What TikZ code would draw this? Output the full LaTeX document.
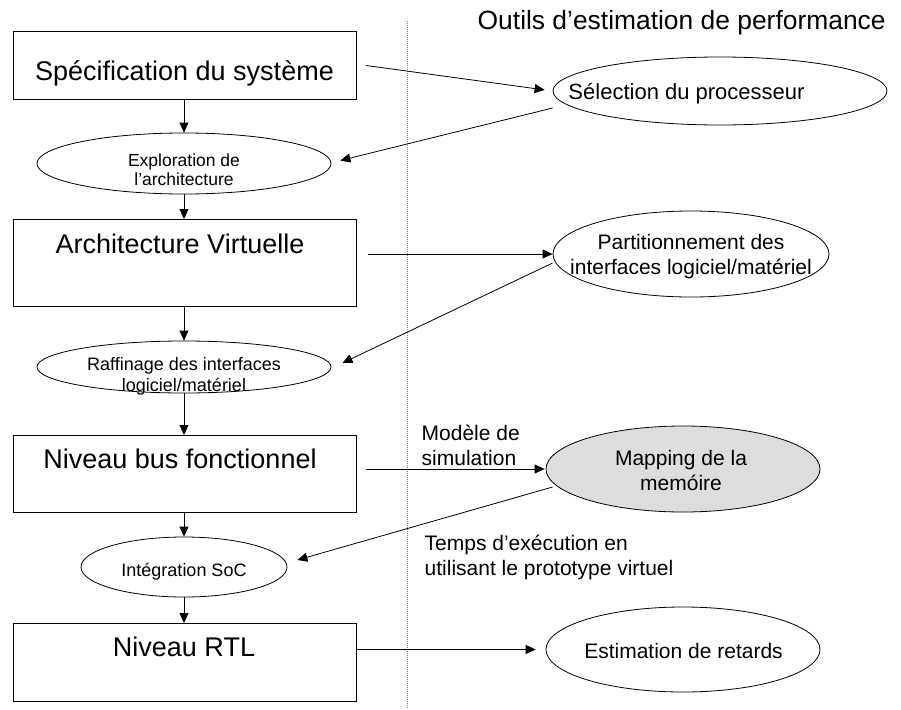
\documentclass[tikz,border=0pt]{standalone}
\usepackage{fontspec}
\setmainfont{Liberation Sans}
\usetikzlibrary{shapes.geometric,arrows.meta,calc}
\definecolor{mapfill}{HTML}{DDDDDD}
\begin{document}
\begin{tikzpicture}[x=1pt,y=-1pt,
  box/.style={draw, line width=0.9pt, inner sep=0, anchor=north west},
  elps/.style={draw, ellipse, line width=0.8pt, inner sep=0},
  arr/.style={line width=0.8pt, -{Triangle[length=10pt,width=9pt]}},
  big/.style={font=\fontsize{27}{32}\selectfont, inner sep=0},
  med/.style={font=\fontsize{21}{25}\selectfont, inner sep=0},
  sml/.style={font=\fontsize{18}{21}\selectfont, inner sep=0},
  dotline/.style={line width=0.7pt, gray, dash pattern=on 0.8pt off 1.2pt}]
\useasboundingbox (0,0) rectangle (901,709);

% dotted separator
\coordinate (dtop) at (407,21);
\coordinate (dbot) at (407,709);
\draw[dotline] (dtop) -- (dbot);

% title
\node[font=\fontsize{26.4}{31}\selectfont, inner sep=0, anchor=base west] (title) at (477.5,30) {Outils d’estimation de performance};

% left column boxes
\node[box, minimum width=343pt, minimum height=68pt] (b1) at (13,31) {};
\node[big, anchor=base] (tb1) at (184.5,80) {Spécification du système};
\node[box, minimum width=343pt, minimum height=87pt] (b2) at (13,219) {};
\node[big, anchor=base] (tb2) at (180,253) {Architecture Virtuelle};
\node[box, minimum width=343pt, minimum height=77pt] (b3) at (13,435) {};
\node[big, anchor=base] (tb3) at (180,468) {Niveau bus fonctionnel};
\node[box, minimum width=343pt, minimum height=78pt] (b4) at (13,623) {};
\node[big, anchor=base] (tb4) at (184,656) {Niveau RTL};

% left column ellipses
\node[elps, minimum width=294pt, minimum height=61pt] (e1) at (184,163.5) {};
\node[font=\fontsize{17.5}{19}\selectfont, inner sep=0, align=center] (te1) at (184,170) {Exploration de\\l’architecture};
\node[elps, minimum width=294pt, minimum height=52pt] (raf) at (184,367) {};
\node[sml, align=center] (traf) at (184,376) {Raffinage des interfaces\\logiciel/matériel};
\node[elps, minimum width=206pt, minimum height=60pt] (soc) at (184,567) {};
\node[sml, anchor=base] (tsoc) at (184,576) {Intégration SoC};

% right column ellipses
\node[elps, minimum width=334pt, minimum height=68pt] (sel) at (720,91) {};
\node[font=\fontsize{22}{26}\selectfont, inner sep=0, anchor=base] (tsel) at (686.5,99) {Sélection du processeur};
\node[elps, minimum width=276pt, minimum height=86pt] (part) at (691,254) {};
\node[med, align=center] (tpart) at (691,257) {Partitionnement des\\interfaces logiciel/matériel};
\node[elps, fill=mapfill, minimum width=274pt, minimum height=86pt] (map) at (683,469) {};
\node[med, align=center] (tmap) at (681,470) {Mapping de la\\memóire};
\node[elps, minimum width=274pt, minimum height=85pt] (est) at (683,649.5) {};
\node[med, anchor=base] (test) at (683.5,658) {Estimation de retards};

% free labels
\node[med, align=left, anchor=north west] (lmod) at (421.5,425) {Modèle de\\simulation};
\node[med, align=left, anchor=north west] (ltemps) at (424.5,534.5) {Temps d’exécution en\\utilisant le prototype virtuel};

% vertical flow
\draw[arr] (b1.south -| e1.north) -- (e1.north);
\draw[arr] (e1.south) -- (e1.south |- b2.north);
\draw[arr] (b2.south -| raf.north) -- (raf.north);
\draw[arr] (raf.south) -- (raf.south |- b3.north);
\draw[arr] (b3.south -| soc.north) -- (soc.north);
\draw[arr] (soc.south) -- (soc.south |- b4.north);

% cross connectors
\draw[arr, shorten >=8pt] ([xshift=9pt]b1.east) -- (sel.west);
\draw[arr] ($(sel.west)+(0,17)$) -- ($(e1.east)+(9,-3)$);
\draw[arr] ([xshift=11pt]b2.east |- part.west) -- (part.west);
\draw[arr] ($(part.west)+(0,9)$) -- ($(raf.east)+(11,-4)$);
\draw[arr] ([xshift=9pt]b3.east |- map.west) -- ([xshift=-1pt]map.west);
\draw[arr] ($(map.west)+(7,18)$) -- ($(soc.east)+(10,-7)$);
\draw[arr, shorten >=10pt] (b4.east |- est.west) -- (est.west);
\end{tikzpicture}
\end{document}
